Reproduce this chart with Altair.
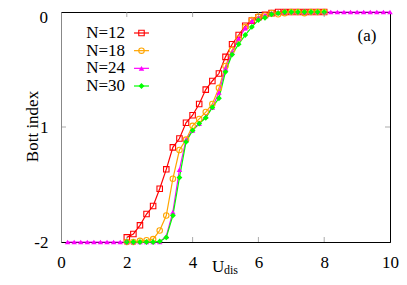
import altair as alt
import pandas as pd

SERIES = ["N=12", "N=18", "N=24", "N=30"]
COLORS = ["#ff0000", "#ffa500", "#ff00ff", "#00ff00"]

U_SHORT = [2.0, 2.2, 2.4, 2.6, 2.8, 3.0, 3.2, 3.4, 3.6, 3.8, 4.0, 4.2, 4.4, 4.6, 4.8,
           5.0, 5.2, 5.4, 5.6, 5.8, 6.0, 6.2, 6.4, 6.6, 6.8, 7.0, 7.2, 7.4, 7.6, 7.8, 8.0]
U_LONG = [0.2, 0.4, 0.6, 0.8, 1.0, 1.2, 1.4, 1.6, 1.8, 2.0, 2.2, 2.4, 2.6, 2.8, 3.0,
          3.2, 3.4, 3.6, 3.8, 4.0, 4.2, 4.4, 4.6, 4.8, 5.0, 5.2, 5.4, 5.6, 5.8, 6.0,
          6.2, 6.4, 6.6, 6.8, 7.0, 7.2, 7.4, 7.6, 7.8, 8.0, 8.2, 8.4, 8.6, 8.8, 9.0,
          9.2, 9.4, 9.6, 9.8, 10.0]

B_N12 = [-1.96, -1.93, -1.855, -1.757, -1.687, -1.537, -1.368, -1.177, -1.10, -0.963,
         -0.898, -0.80, -0.675, -0.60, -0.535, -0.39, -0.28, -0.20, -0.12, -0.075,
         -0.045, -0.025, -0.01, 0.0, 0.0, 0.0, 0.0, 0.0, 0.0, 0.0, 0.0]
B_N18 = [-2.0, -2.0, -1.99, -1.985, -1.975, -1.90, -1.77, -1.45, -1.20, -1.11,
         -0.99, -0.93, -0.87, -0.80, -0.66, -0.47, -0.33, -0.23, -0.13, -0.07,
         -0.04, -0.03, -0.01, -0.02, -0.01, 0.0, 0.0, -0.01, 0.0, 0.0, 0.0]
B_N24 = [-2.0, -2.0, -2.0, -2.0, -2.0, -2.0, -2.0, -2.0, -2.0, -2.0, -2.0, -2.0, -2.0,
         -2.0, -2.0, -1.95, -1.74, -1.37, -1.11, -1.03, -0.97, -0.91, -0.83, -0.70,
         -0.49, -0.35, -0.23, -0.14, -0.08, -0.05, -0.03, -0.01, 0.0, 0.0, 0.0, 0.0,
         0.0, 0.0, 0.0, 0.0, 0.0, 0.0, 0.0, 0.0, 0.0, 0.0, 0.0, 0.0, 0.0, 0.0]
B_N30 = [-2.0, -2.0, -2.0, -2.0, -2.0, -1.995, -1.96, -1.77, -1.44, -1.13,
         -1.03, -0.97, -0.92, -0.83, -0.75, -0.52, -0.37, -0.28, -0.20, -0.13,
         -0.07, -0.05, -0.02, -0.01, 0.0, 0.0, 0.0, 0.0, 0.0, 0.0, 0.0]

X_TICKS = [0, 2, 4, 6, 8, 10]
X_TICK_LABELS = ["0", "2", "4", "6", "8", "10"]
Y_TICKS = [-2, -1]
Y_TICK_LABELS = ["-2", "1"]
Y_TOP_TICK = [0]
Y_TOP_LABEL = ["0"]
X_INNER_TICKS = [2, 4, 6, 8]
Y_INNER_TICKS = [-1]

FONT = "Liberation Serif"
W, H = 329, 230


def label_expr(vals, labels):
    expr = "''"
    for v, l in zip(vals, labels):
        expr = f"datum.value == {v} ? '{l}' : ({expr})"
    return expr


rows = []
for name, xs_, ys_ in [("N=12", U_SHORT, B_N12), ("N=18", U_SHORT, B_N18),
                       ("N=24", U_LONG, B_N24), ("N=30", U_SHORT, B_N30)]:
    for u, b in zip(xs_, ys_):
        rows.append({"U": u, "B": b, "N": name})
df = pd.DataFrame(rows)

xs = alt.Scale(domain=[0, 10], nice=False, zero=False)
ys = alt.Scale(domain=[-2, 0], nice=False, zero=False)

X = alt.X("U:Q", scale=xs, axis=alt.Axis(values=X_TICKS, ticks=False, grid=False, title=None,
                                         labelExpr=label_expr(X_TICKS, X_TICK_LABELS),
                                         labelFont=FONT, labelFontSize=17, labelColor="black",
                                         labelPadding=12, domainColor="black", labelFlush=False,
                                         labelOverlap=False))
Y = alt.Y("B:Q", scale=ys, axis=alt.Axis(values=Y_TICKS, ticks=False, grid=False,
                                         title="Bott index", titleFont=FONT, titleFontSize=17,
                                         titleFontWeight="normal", titleColor="black",
                                         titleX=-29, titleY=114, titleAngle=-90,
                                         titleAlign="center", titleBaseline="middle",
                                         labelFont=FONT, labelFontSize=17, labelColor="black",
                                         labelPadding=13, domainColor="#888888",
                                         labelFlush=False, labelOverlap=False,
                                         labelExpr=label_expr(Y_TICKS, Y_TICK_LABELS)))

marks = {
    "N=12": dict(shape="square", filled=False, size=30, strokeWidth=1.1),
    "N=18": dict(shape="circle", filled=False, size=30, strokeWidth=1.1),
    "N=24": dict(shape="triangle-up", filled=True, size=30),
    "N=30": dict(shape="diamond", filled=True, size=34),
}

main_layers = []
for name, col in zip(SERIES, COLORS):
    sub = alt.Chart(df).transform_filter(alt.datum.N == name)
    main_layers.append(sub.mark_line(color=col, strokeWidth=1.2).encode(x=X, y=Y))
for name, col in zip(SERIES, COLORS):
    sub = alt.Chart(df).transform_filter(alt.datum.N == name)
    main_layers.append(sub.mark_point(color=col, opacity=1, **marks[name]).encode(x=X, y=Y))

# inward ticks
xt = pd.DataFrame({"U": X_INNER_TICKS})
yt = pd.DataFrame({"B": Y_INNER_TICKS})
tick_style = dict(color="#888888", thickness=1, size=5)
main_layers.append(alt.Chart(xt).mark_tick(orient="vertical", **tick_style).encode(x=alt.X("U:Q", scale=xs), y=alt.value(H - 2.5)))
main_layers.append(alt.Chart(xt).mark_tick(orient="vertical", **tick_style).encode(x=alt.X("U:Q", scale=xs), y=alt.value(2.5)))
main_layers.append(alt.Chart(yt).mark_tick(orient="horizontal", **tick_style).encode(y=alt.Y("B:Q", scale=ys), x=alt.value(2.5)))
main_layers.append(alt.Chart(yt).mark_tick(orient="horizontal", **tick_style).encode(y=alt.Y("B:Q", scale=ys), x=alt.value(W - 2.5)))

# top y tick label, nudged down so it stays inside the page
top_lab = pd.DataFrame({"B": Y_TOP_TICK, "t": Y_TOP_LABEL})
main_layers.append(alt.Chart(top_lab).mark_text(font=FONT, fontSize=17, align="right", baseline="middle",
                                                color="black", dy=6)
                   .encode(y=alt.Y("B:Q", scale=ys), x=alt.value(-13), text="t:N"))

# annotations
ann = pd.DataFrame({"t": ["(a)"]})
main_layers.append(alt.Chart(ann).mark_text(font=FONT, fontSize=17, align="center", baseline="middle", color="black")
                   .encode(text="t:N", x=alt.value(306), y=alt.value(24)))
xt1 = pd.DataFrame({"t": ["U"]})
xt2 = pd.DataFrame({"t": ["dis"]})
main_layers.append(alt.Chart(xt1).mark_text(font=FONT, fontSize=17, align="left", baseline="alphabetic", color="black")
                   .encode(text="t:N", x=alt.value(151), y=alt.value(260)))
main_layers.append(alt.Chart(xt2).mark_text(font=FONT, fontSize=12, align="left", baseline="alphabetic", color="black")
                   .encode(text="t:N", x=alt.value(163), y=alt.value(262)))

main = alt.layer(*main_layers)

# manual key
leg = pd.DataFrame({"N": SERIES})
LY = alt.Y("N:N", scale=alt.Scale(type="point", domain=SERIES, range=[21, 74], padding=0), axis=None)
leg_layers = [alt.Chart(leg).mark_text(font=FONT, fontSize=17, align="right", baseline="middle", color="black")
              .encode(text="N:N", x=alt.value(64), y=LY)]
for name, col in zip(SERIES, COLORS):
    sub = alt.Chart(leg).transform_filter(alt.datum.N == name)
    leg_layers.append(sub.mark_rule(color=col, strokeWidth=1.2).encode(x=alt.value(73), x2=alt.value(88), y=LY))
    leg_layers.append(sub.mark_point(color=col, opacity=1, **marks[name]).encode(x=alt.value(80.5), y=LY))
legend = alt.layer(*leg_layers)

chart = alt.layer(main, legend).resolve_scale(y="independent").properties(
    width=W, height=H, autosize="none",
    padding={"left": 53, "top": 4, "right": 9, "bottom": 35},
).configure_view(stroke="black", strokeWidth=1)

chart.save("out.html", embed_options={"renderer": "svg", "actions": False})
